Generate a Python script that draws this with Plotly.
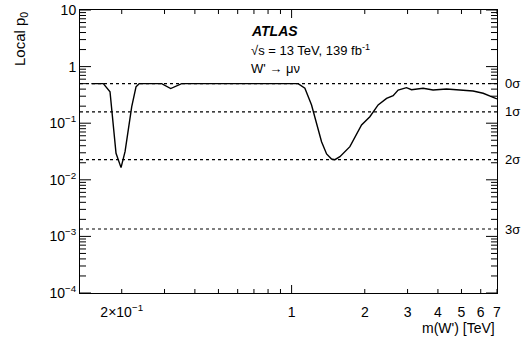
import math
import plotly.graph_objects as go

# Local p0 scan versus W' mass
mass_tev = [0.15, 0.168, 0.179, 0.1895, 0.1987, 0.2064, 0.2199, 0.229, 0.236,
            0.292, 0.318, 0.353,
            1.064, 1.134, 1.208, 1.267, 1.328, 1.393, 1.46, 1.507, 1.58, 1.737,
            1.94, 2.099, 2.27, 2.459, 2.617, 2.744, 2.97, 3.114, 3.476, 3.82,
            4.34, 4.92, 5.58, 6.14, 6.64, 7.0]
local_p0 = [0.5, 0.5, 0.36, 0.0294, 0.0164, 0.0314, 0.196, 0.44, 0.5,
            0.5, 0.41, 0.5,
            0.5, 0.414, 0.21, 0.093, 0.0471, 0.0286, 0.0233, 0.0227, 0.0256, 0.0385,
            0.093, 0.130, 0.21, 0.275, 0.306, 0.386, 0.424, 0.391, 0.414, 0.386,
            0.402, 0.386, 0.371, 0.338, 0.294, 0.268]

# Reference significance levels
sigma_labels = ["0σ", "1σ", "2σ", "3σ"]
sigma_p0 = [0.5, 0.1587, 0.02275, 0.00135]

# Axis ticks
x_label_vals = [0.2, 1, 2, 3, 4, 5, 6, 7]
x_label_text = ["2×10<sup>−1</sup>", "1", "2", "3", "4", "5", "6", "7"]
x_minor = [0.3, 0.4, 0.5, 0.6, 0.7, 0.8, 0.9]
x_long = [1]
y_label_vals = [10, 1, 0.1, 0.01, 0.001, 0.0001]
y_label_text = ["10", "1", "10<sup>−1</sup>", "10<sup>−2</sup>", "10<sup>−3</sup>", "10<sup>−4</sup>"]
y_minor = [m * 10.0 ** e for e in range(-4, 1) for m in range(2, 10)]

X_RANGE = [math.log10(0.1347), math.log10(7.0)]
Y_RANGE = [-4, 1]
FONT = "Liberation Sans, Arial, Helvetica, sans-serif"

fig = go.Figure()
fig.add_trace(go.Scatter(x=mass_tev, y=local_p0, mode="lines",
                         line=dict(color="black", width=1.4),
                         showlegend=False, hoverinfo="skip"))

for p in sigma_p0:
    fig.add_shape(type="line", xref="paper", x0=0, x1=1, yref="y", y0=p, y1=p,
                  line=dict(color="black", width=1.2, dash="dot"), layer="below")

# Inward tick marks on all four sides (pixel lengths, placed at axis values)
TICK = dict(color="black", width=1)
for v in x_label_vals + x_minor:
    n = 8 if v in x_long else 4
    for anchor, sign in ((0, 1), (1, -1)):
        fig.add_shape(type="line", xref="x", x0=v, x1=v, yref="paper",
                      ysizemode="pixel", yanchor=anchor, y0=0, y1=sign * n, line=TICK)
for v in y_label_vals + y_minor:
    n = 11 if v in y_label_vals else 6
    for anchor, sign in ((0, 1), (1, -1)):
        fig.add_shape(type="line", yref="y", y0=v, y1=v, xref="paper",
                      xsizemode="pixel", xanchor=anchor, x0=0, x1=sign * n, line=TICK)

for lab, p in zip(sigma_labels, sigma_p0):
    fig.add_annotation(text=lab, xref="paper", x=1, xshift=6, xanchor="left",
                       yref="y", y=math.log10(p), yanchor="middle",
                       showarrow=False, font=dict(size=13, color="black", family=FONT))

# Experiment label block
label_lines = [("<b><i>ATLAS</i></b>", 14, -21),
               ("√s = 13 TeV, 139 fb<sup>-1</sup>", 13, -40),
               ("W' → μν", 13, -58)]
for txt, size, shift in label_lines:
    fig.add_annotation(text=txt, xref="paper", yref="paper", x=0.405, y=1,
                       yshift=shift, xanchor="left", yanchor="middle",
                       showarrow=False, font=dict(size=size, color="black", family=FONT))

# Axis titles placed at the far ends of the axes
fig.add_annotation(text="m(W') [TeV]", xref="paper", yref="paper", x=1, y=0,
                   yshift=-25, xanchor="right", yanchor="top", showarrow=False,
                   font=dict(size=14, color="black", family=FONT))
fig.add_annotation(text="Local p<sub>0</sub>", xref="paper", yref="paper", x=0, y=1,
                   xshift=-60, xanchor="center", yanchor="top", textangle=-90,
                   showarrow=False, font=dict(size=15, color="black", family=FONT))

axis_common = dict(showgrid=False, zeroline=False, showline=True, linecolor="black",
                   linewidth=1, mirror=True, ticks="", automargin=False,
                   tickfont=dict(size=14, color="black", family=FONT))

fig.update_layout(
    template="none",
    width=526, height=342, margin=dict(l=80, r=29, t=10, b=49),
    paper_bgcolor="white", plot_bgcolor="white",
    font=dict(family=FONT, color="black"),
    xaxis=dict(type="log", range=X_RANGE, tickmode="array",
               tickvals=x_label_vals, ticktext=x_label_text,
               ticklabelstandoff=6, **axis_common),
    yaxis=dict(type="log", range=Y_RANGE, tickmode="array",
               tickvals=y_label_vals, ticktext=y_label_text, **axis_common),
)

fig.write_html("out.html")
